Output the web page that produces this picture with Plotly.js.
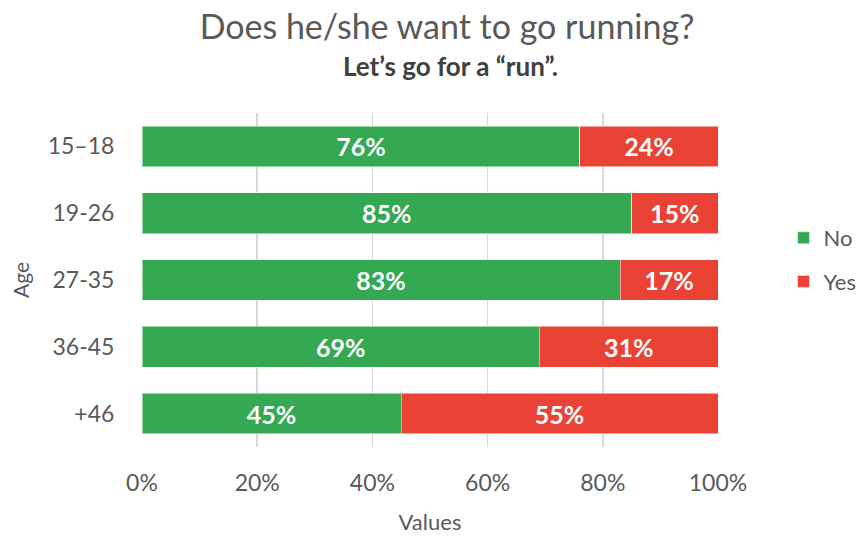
<!DOCTYPE html>
<html>
<head>
<meta charset="utf-8">
<script src="https://cdn.plot.ly/plotly-3.0.1.min.js"></script>
<style>html,body{margin:0;padding:0;background:#fff;}#chart{width:857px;height:537px;}</style>
</head>
<body>
<div id="chart"></div>
<script>
const ageGroups = ["15–18", "19-26", "27-35", "36-45", "+46"];
const noValues = [0.76, 0.85, 0.83, 0.69, 0.45];
const yesValues = [0.24, 0.15, 0.17, 0.31, 0.55];
const xTicks = [0, 0.2, 0.4, 0.6, 0.8, 1.0];
const xTickLabels = ["0%", "20%", "40%", "60%", "80%", "100%"];

const FONT = "Lato, 'Open Sans', sans-serif";

const traces = [
  {
    type: "bar", orientation: "h", name: "No",
    y: ageGroups, x: noValues,
    marker: {color: "#34A853", line: {color: "rgba(255,255,255,0.5)", width: 1}},
    text: noValues.map(v => Math.round(v * 100) + "%"),
    textposition: "inside", insidetextanchor: "middle",
    textfont: {family: FONT, size: 25, color: "#ffffff", weight: "bold"},
    hoverinfo: "none", legendgroup: "a"
  },
  {
    type: "bar", orientation: "h", name: "Yes",
    y: ageGroups, x: yesValues,
    marker: {color: "#EA4335", line: {color: "rgba(255,255,255,0.5)", width: 1}},
    text: yesValues.map(v => Math.round(v * 100) + "%"),
    textposition: "inside", insidetextanchor: "middle",
    textfont: {family: FONT, size: 25, color: "#ffffff", weight: "bold"},
    hoverinfo: "none", legendgroup: "b"
  }
];

const layout = {
  width: 857, height: 537,
  paper_bgcolor: "#ffffff", plot_bgcolor: "#ffffff",
  margin: {l: 142, r: 139, t: 113, b: 90, pad: 0, autoexpand: false},
  barmode: "stack", bargap: 0.39,
  font: {family: FONT, color: "#595959"},
  title: {
    text: "Does he/she want to go running?",
    font: {family: FONT, size: 34, color: "#595959"},
    x: 447 / 857, xanchor: "center", xref: "container",
    y: 1 - 27 / 537, yanchor: "middle", yref: "container"
  },
  annotations: [{
    text: "<b>Let’s go for a “run”.</b>",
    xref: "paper", yref: "paper", x: (450 - 142) / 576, y: 1 + (113 - 66) / 334,
    xanchor: "center", yanchor: "middle", showarrow: false,
    font: {family: FONT, size: 26, color: "#404040"}
  }],
  xaxis: {
    range: [0, 1], tickvals: xTicks, ticktext: xTickLabels,
    showgrid: true, gridcolor: "#d9d9d9", gridwidth: 1.5,
    zeroline: false, showline: false,
    ticks: "outside", ticklen: 15, tickcolor: "rgba(0,0,0,0)",
    tickfont: {family: FONT, size: 23, color: "#595959"},
    title: {text: "Values", font: {family: FONT, size: 22, color: "#595959"}, standoff: 20},
    fixedrange: true
  },
  yaxis: {
    categoryorder: "array", categoryarray: ageGroups, autorange: "reversed",
    showgrid: false, zeroline: false, showline: false,
    ticks: "outside", ticklen: 22, tickcolor: "rgba(0,0,0,0)",
    tickfont: {family: FONT, size: 23, color: "#595959"},
    title: {text: "Age", font: {family: FONT, size: 21, color: "#595959"}, standoff: 12},
    fixedrange: true
  },
  legend: {
    x: 1.1138, xanchor: "left", y: 1 - (260 - 113) / 334, yanchor: "middle",
    font: {family: FONT, size: 22, color: "#595959"},
    traceorder: "grouped", tracegroupgap: 12,
    itemwidth: 30
  },
  showlegend: true
};

Plotly.newPlot("chart", traces, layout, {displayModeBar: false, staticPlot: true});
</script>
</body>
</html>
